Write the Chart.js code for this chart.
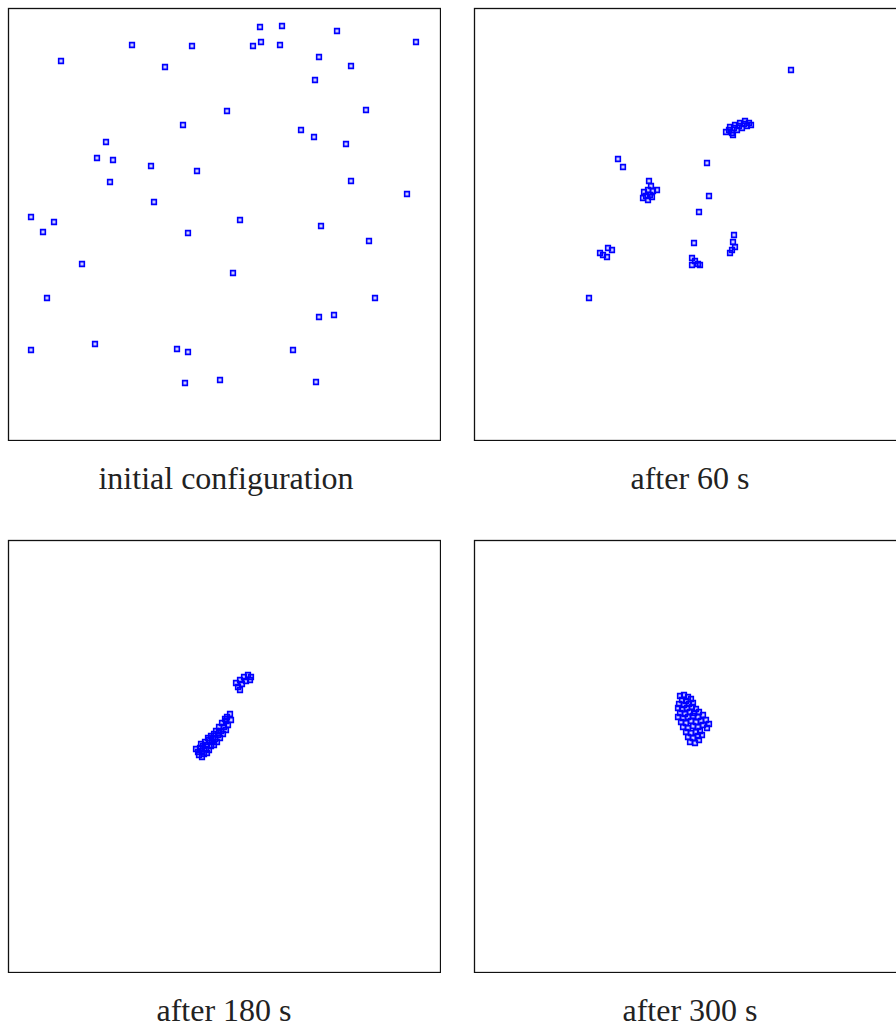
<!DOCTYPE html>
<html>
<head>
<meta charset="utf-8">
<script src="https://cdn.jsdelivr.net/npm/chart.js@4/dist/chart.umd.min.js"></script>
<style>
  html, body { margin: 0; padding: 0; background: #fff; overflow: hidden; }
  body { width: 896px; height: 1028px; position: relative; }
  canvas { position: absolute; }
  .legende {
    position: absolute; width: 432px; text-align: center;
    font-family: 'Liberation Serif', 'DejaVu Serif', serif; font-size: 32px;
    line-height: 32px; color: #222;
  }
</style>
</head>
<body>
<canvas id="c0" width="434" height="434" style="left:7px;top:7px"></canvas>
<canvas id="c1" width="434" height="434" style="left:473px;top:7px"></canvas>
<canvas id="c2" width="434" height="434" style="left:7px;top:539px"></canvas>
<canvas id="c3" width="434" height="434" style="left:473px;top:539px"></canvas>
<div class="legende" style="left:10px;top:462px">initial configuration</div>
<div class="legende" style="left:474px;top:462px">after 60 s</div>
<div class="legende" style="left:8px;top:994px">after 180 s</div>
<div class="legende" style="left:474px;top:994px">after 300 s</div>
<script>
// box side length (simulation units)
const boxSize = 432;

// particle positions [x, y]
const initial = [
  [124,395],[184,394],[53,379],[157,373],[175,315],[98,298],[89,282],[105,280],[143,274],[189,269],
  [102,258],[146,238],[23,223],[46,218],[35,208],[180,207],[74,176],[39,142],[87,96],[23,90],
  [169,91],[180,88],[177,57],[212,60],[252,413],[274,414],[329,409],[245,394],[253,398],[272,395],
  [408,398],[311,383],[343,374],[307,360],[219,329],[358,330],[293,310],[306,303],[338,296],[343,259],
  [399,246],[232,220],[313,214],[361,199],[225,167],[367,142],[311,123],[326,125],[285,90],[308,58]
];

const apres60 = [
  [317,370],
  [252,308],[255,310],[258,307],[256,313],[260,312],[263,310],[261,315],[265,314],[268,312],[266,317],
  [270,316],[273,314],[271,319],[275,317],[277,315],[259,305],
  [144,281],[149,273],
  [233,277],[235,244],[225,228],[220,197],[115,142],
  [175,259],[177,254],[174,250],[179,249],[183,250],[170,248],[172,244],[176,245],[169,242],[174,240],[178,243],
  [260,205],[259,198],[261,193],[258,190],[256,187],
  [134,192],[138,190],[126,187],[129,185],[133,183],
  [218,182],[218,175],[221,179],[224,176],[226,175]
];

const apres180 = [
  [228,289],[232,292],[236,295],[240,297],[243,295],[230,285],[234,288],[238,291],[242,292],[232,282],
  [222,258],[219,255],[223,252],[218,251],[214,249],[220,247],[216,245],[211,245],[213,241],[218,242],
  [208,241],[210,237],[206,238],[215,238],[203,236],[207,233],[212,234],[201,232],[204,230],[209,230],
  [197,230],[199,227],[203,226],[206,227],[195,226],[192,224],[198,223],[201,222],[194,221],[190,220],
  [196,218],[191,217],[194,215],[199,219],[188,223],[217,253],[205,234],[200,234],[211,239],[193,228]
];

const apres300 = [
  [206,276],[210,277],[214,275],[208,272],[212,271],[217,273],[205,268],[210,267],[215,268],[219,269],
  [204,264],[208,263],[213,264],[218,265],[222,263],[206,259],[211,258],[216,260],[220,259],[225,260],
  [204,255],[209,254],[214,255],[219,256],[224,255],[229,257],
  [207,250],[212,249],[217,251],[222,250],[227,251],[232,252],[209,245],[214,244],[219,246],[224,245],
  [229,247],[235,248],[233,244],
  [212,240],[217,239],[222,240],[226,241],[214,235],[219,234],[224,236],[216,230],[221,229],[225,232],[228,237]
];

const configs = [initial, apres60, apres180, apres300];

// cadre noir autour de la zone de tracé
const cadre = {
  id: 'cadre',
  afterDraw: (chart) => {
    const { ctx, chartArea: a } = chart;
    ctx.save();
    ctx.strokeStyle = '#111';
    ctx.lineWidth = 1.3;
    ctx.strokeRect(a.left + 0.5, a.top + 0.5, a.right - a.left, a.bottom - a.top);
    ctx.restore();
  }
};

const dessiner = (id, points) => {
  new Chart(document.getElementById(id), {
    type: 'scatter',
    data: {
      datasets: [{
        data: points.map(p => ({ x: p[0], y: p[1] })),
        pointStyle: 'rect',
        pointRadius: 3.3,
        borderWidth: 1.6,
        borderColor: '#0000ff',
        backgroundColor: 'rgba(0,0,255,0.2)'
      }]
    },
    options: {
      responsive: false,
      animation: false,
      events: [],
      layout: { padding: 1, autoPadding: false },
      scales: {
        x: { type: 'linear', min: 0, max: boxSize, display: false },
        y: { type: 'linear', min: 0, max: boxSize, display: false }
      },
      plugins: { legend: { display: false }, tooltip: { enabled: false } }
    },
    plugins: [cadre]
  });
};

configs.forEach((pts, i) => dessiner('c' + i, pts));
</script>
</body>
</html>
